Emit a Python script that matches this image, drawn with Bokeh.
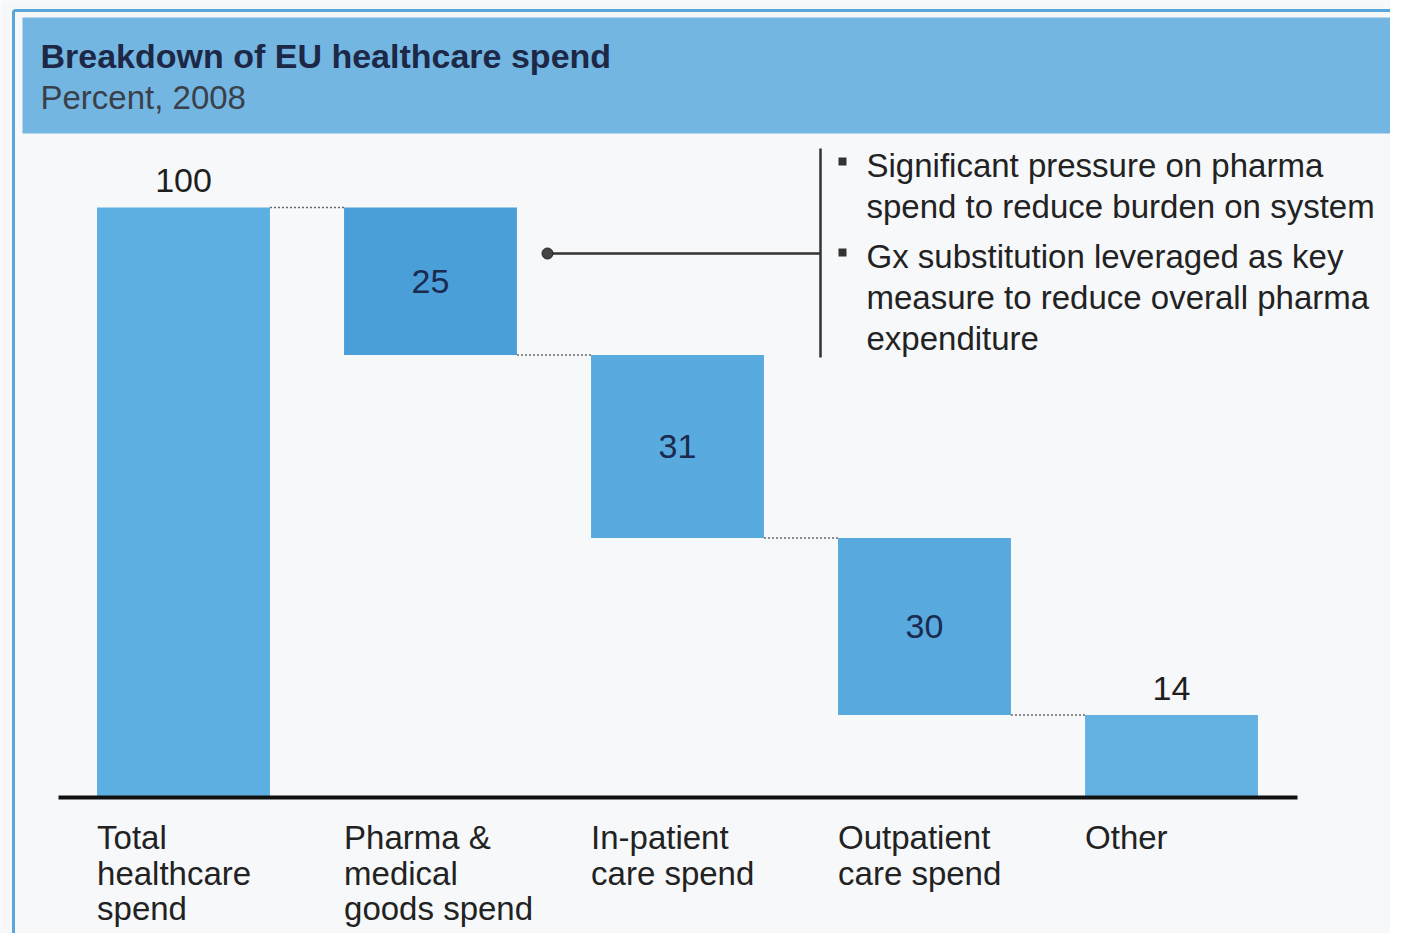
from bokeh.plotting import figure
from bokeh.models import Range1d, ColumnDataSource
from bokeh.core.properties import value
from bokeh.embed import file_html
from bokeh.resources import INLINE

# ---- data ----
categories = ["Total\nhealthcare\nspend", "Pharma &\nmedical\ngoods spend",
              "In-patient\ncare spend", "Outpatient\ncare  spend", "Other"]
values = [100, 25, 31, 30, 14]
kinds = ["total", "step", "step", "step", "end"]
title = "Breakdown of EU healthcare spend"
subtitle = "Percent, 2008"
bullets = [["Significant pressure on pharma", "spend to reduce burden on system"],
           ["Gx substitution leveraged as key", "measure to reduce overall pharma", "expenditure"]]

# ---- waterfall geometry from data ----
bottoms, tops = [], []
level = 0
for v, k in zip(values, kinds):
    if k == "total":
        bottoms.append(0); tops.append(v); level = v
    elif k == "end":
        bottoms.append(0); tops.append(v)
    else:
        tops.append(level); bottoms.append(level - v); level -= v
idx = list(range(len(values)))
colors = ["#5daee1", "#4a9fd9", "#59aade", "#58a9de", "#63b2e2"]

FONT = value("Liberation Sans")
FS = "34px"
W, H = 1390, 933
OX, OY = 0, 0
p = figure(width=W, height=H,
           x_range=Range1d((OX - 183) / 247, (OX + W - 183) / 247),
           y_range=Range1d((797 - OY - H) / 5.9, (797 - OY) / 5.9),
           output_backend="svg", toolbar_location=None, min_border=0,
           x_axis_location=None, y_axis_location=None,
           background_fill_color="#f6f8fa", border_fill_color="#ffffff", outline_line_color=None)
p.grid.visible = False
# page-pixel helper ranges for layout decoration
p.extra_x_ranges = {"px": Range1d(OX, OX + W)}
p.extra_y_ranges = {"px": Range1d(OY + H, OY)}
PX = dict(x_range_name="px", y_range_name="px")

# outer frame & header band
p.segment(x0=[13, 13], y0=[10, 10], x1=[13, 1406], y1=[949, 10], line_color="#5aa7dc", line_width=3, **PX)
p.quad(left=22, right=1406, top=17, bottom=133, fill_color="#74b6e2", line_color=None, **PX)
p.text(x=[40], y=[55], text=[title], text_font=FONT, text_font_size=FS, text_font_style="bold",
       text_color="#1d2847", text_baseline="middle", **PX)
p.text(x=[40], y=[97], text=[subtitle], text_font=FONT, text_font_size="33px",
       text_color="#3a3f4a", text_baseline="middle", **PX)

# bars
src = ColumnDataSource(dict(x=idx, bottom=bottoms, top=tops, color=colors))
p.vbar(x="x", width=0.7, bottom="bottom", top="top", fill_color="color", line_color=None, source=src)

# dotted connectors
cx0, cx1, cy = [], [], []
for i in range(len(values) - 1):
    lvl = bottoms[i] if kinds[i] == "step" else tops[i]
    cx0.append(idx[i] + 0.35); cx1.append(idx[i + 1] - 0.35); cy.append(lvl)
p.segment(x0=cx0, y0=cy, x1=cx1, y1=cy, line_color="#666666", line_width=1.5, line_dash="2 2")

# baseline
p.segment(x0=[58], y0=[797], x1=[1297], y1=[797], line_color="#111111", line_width=4, **PX)

# value labels
out_x, out_y, out_t, in_x, in_y, in_t = [], [], [], [], [], []
for i, (v, k) in enumerate(zip(values, kinds)):
    if k == "step":
        in_x.append(idx[i]); in_y.append((bottoms[i] + tops[i]) / 2); in_t.append(str(v))
    else:
        out_x.append(idx[i]); out_y.append(tops[i] + 4.5); out_t.append(str(v))
p.text(x=out_x, y=out_y, text=out_t, text_font=FONT, text_font_size=FS, text_color="#1e1e1e",
       text_align="center", text_baseline="middle")
p.text(x=in_x, y=in_y, text=in_t, text_font=FONT, text_font_size=FS, text_color="#1b2a4e",
       text_align="center", text_baseline="middle")

# category labels (left aligned at bar left edge), one line per glyph row
lx, ly, lt = [], [], []
for i, c in enumerate(categories):
    for j, line in enumerate(c.split("\n")):
        lx.append(idx[i] - 0.35); ly.append(-(40 + j * 35.5) / 5.9); lt.append(line)
p.text(x=lx, y=ly, text=lt, text_font=FONT, text_font_size="33px", text_color="#222222",
       text_baseline="middle")

# callout
p.segment(x0=[547], y0=[253], x1=[820], y1=[253], line_color="#333333", line_width=2.5, **PX)
p.scatter(x=[547], y=[253], size=11, marker="circle", fill_color="#444444", line_color="#222222", **PX)
p.segment(x0=[820], y0=[148], x1=[820], y1=[357], line_color="#333333", line_width=2.5, **PX)
bx, by, bt, sqx, sqy = [], [], [], [], []
yy = 165
for b in bullets:
    sqx.append(842); sqy.append(yy - 4)
    for line in b:
        bx.append(866); by.append(yy); bt.append(line); yy += 41
    yy += 9
p.scatter(x=sqx, y=sqy, size=8, marker="square", fill_color="#333333", line_color=None, **PX)
p.text(x=bx, y=by, text=bt, text_font=FONT, text_font_size="33px", text_color="#222222",
       text_baseline="middle", **PX)

open("out.html", "w").write(file_html(p, INLINE))
